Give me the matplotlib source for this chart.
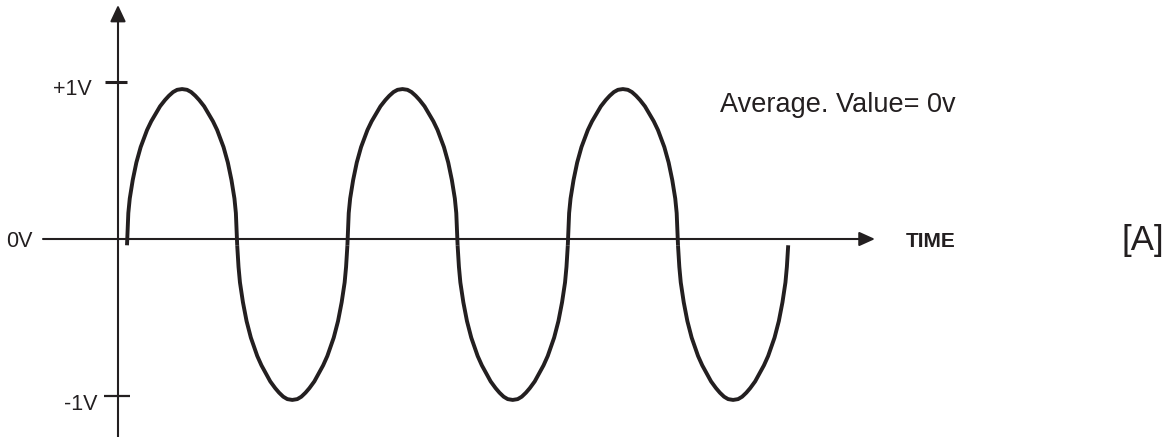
import matplotlib.pyplot as plt
import numpy as np

INK = "#231f20"

# One half-cycle of the waveform: position within the half-cycle (0..1)
# and height as a fraction of the peak. Only the rising side is listed,
# the falling side mirrors it.
PROFILE_T = [0.012, 0.025, 0.052, 0.085, 0.124, 0.182, 0.22, 0.264, 0.30, 0.345, 0.38, 0.418, 0.455, 0.5]
PROFILE_F = [0.173, 0.27, 0.393, 0.51, 0.613, 0.727, 0.785, 0.84, 0.885, 0.927, 0.955, 0.98, 0.995, 1.0]

# Each half-cycle is drawn as its own stroke; they start and finish just
# under the 0V line.
HALF_CYCLE_START = [0, 1, 2, 3, 4, 5]
HALF_CYCLE_PEAK = [0.955, -1.025, 0.955, -1.025, 0.955, -1.025]
STROKE_END_LEVEL = -0.04

VOLT_TICKS = [1.0, -1.0]
VOLT_TICK_LABELS = ["+1V", "-1V"]

# Pixel layout: t=0 sits at x=127 px, one half-cycle is 110.2 px wide,
# 0V sits at y=239 px and one volt is 157 px tall.
W, H = 1170, 437
X0, XS = 127, 110.2
Y0, YS = 239, 157


def px_x(p):
    return (p - X0) / XS


def px_y(p):
    return (Y0 - p) / YS


fig = plt.figure(figsize=(W / 100, H / 100), dpi=100)
ax = fig.add_axes([0, 0, 1, 1])
ax.set_xlim(px_x(0), px_x(W))
ax.set_ylim(px_y(H), px_y(0))
ax.axis("off")

# axes with arrow heads
y_axis_x = px_x(118)
ax.annotate("", xy=(y_axis_x, px_y(5)), xytext=(y_axis_x, px_y(H + 5)),
            arrowprops=dict(arrowstyle="-|>,head_length=1.0,head_width=0.47",
                            mutation_scale=10, lw=1.5, color=INK,
                            shrinkA=0, shrinkB=0))
ax.annotate("", xy=(px_x(875), 0), xytext=(px_x(43), 0),
            arrowprops=dict(arrowstyle="-|>,head_length=0.95,head_width=0.43",
                            mutation_scale=10, lw=1.5, color=INK,
                            shrinkA=0, shrinkB=0))

# +1V / -1V tick marks
ax.plot([px_x(105), px_x(127)], [VOLT_TICKS[0]] * 2, color=INK, lw=2.2,
        solid_capstyle="butt")
ax.plot([px_x(104), px_x(130)], [VOLT_TICKS[1]] * 2, color=INK, lw=1.6,
        solid_capstyle="butt")

# waveform
t_half = np.array(PROFILE_T + [1 - t for t in PROFILE_T[-2::-1]])
f_half = np.array(PROFILE_F + PROFILE_F[-2::-1])
for start, peak in zip(HALF_CYCLE_START, HALF_CYCLE_PEAK):
    xs = np.concatenate([[0.0], t_half, [1.0]]) + start
    ys = np.concatenate([[STROKE_END_LEVEL], f_half * peak, [STROKE_END_LEVEL]])
    ax.plot(xs, ys, color=INK, lw=2.8, solid_capstyle="butt",
            solid_joinstyle="round")

# labels
font = dict(family="Liberation Sans", color=INK)
ax.text(px_x(92), px_y(95), VOLT_TICK_LABELS[0], ha="right", va="baseline",
        fontsize=15.5, **font)
ax.text(px_x(98), px_y(410), VOLT_TICK_LABELS[1], ha="right", va="baseline",
        fontsize=15.5, **font)
ax.text(px_x(6), px_y(247), "0V", ha="left", va="baseline", fontsize=15.5,
        **font)
ax.text(px_x(906), px_y(247), "TIME", ha="left", va="baseline", fontsize=15,
        fontweight="bold", **font)
ax.text(px_x(720), px_y(112), "Average. Value= 0v", ha="left", va="baseline",
        fontsize=19.5, **font)
ax.text(px_x(1121), px_y(250), "[A]", ha="left", va="baseline", fontsize=25,
        **font)

fig.savefig("out.png", dpi=100)
